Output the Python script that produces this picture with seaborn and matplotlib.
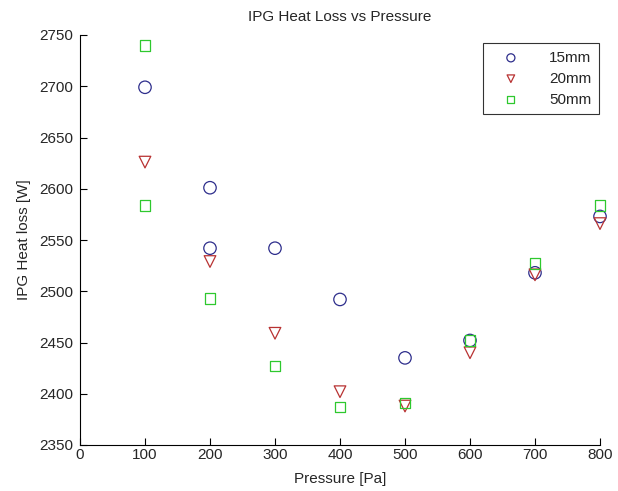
import matplotlib
matplotlib.use("Agg")
import matplotlib.pyplot as plt
import seaborn as sns
import pandas as pd

# Data
pressure_15 = [100, 200, 200, 300, 400, 500, 600, 700, 800]
heat_15 = [2699, 2601, 2542, 2542, 2492, 2435, 2452, 2518, 2573]

pressure_20 = [100, 200, 300, 400, 500, 600, 700, 800]
heat_20 = [2626, 2529, 2459, 2402, 2388, 2440, 2516, 2566]

pressure_50 = [100, 100, 200, 300, 400, 500, 600, 700, 800]
heat_50 = [2740, 2584, 2493, 2427, 2387, 2391, 2452, 2527, 2584]

series_labels = ["15mm", "20mm", "50mm"]
x_ticks = [0, 100, 200, 300, 400, 500, 600, 700, 800]
y_ticks = [2350, 2400, 2450, 2500, 2550, 2600, 2650, 2700, 2750]

sns.set_theme(style="white")
plt.rcParams["font.family"] = ["Liberation Sans", "DejaVu Sans"]
plt.rcParams["xtick.direction"] = "in"
plt.rcParams["ytick.direction"] = "in"

FS = 11

fig = plt.figure(figsize=(6.18, 4.91), dpi=100)
ax = fig.add_axes([80 / 618, 1 - 445 / 491, 520 / 618, 410 / 491])

styles = [("o", "#2e2e8c", 80), ("v", "#b83232", 70), ("s", "#2ec82e", 60)]
datasets = [(pressure_15, heat_15), (pressure_20, heat_20), (pressure_50, heat_50)]

for (px, hy), lab, (mk, col, sz) in zip(datasets, series_labels, styles):
    df = pd.DataFrame({"Pressure": px, "Heat": hy})
    sns.scatterplot(data=df, x="Pressure", y="Heat", marker=mk, s=sz, ax=ax,
                    label=lab, linewidth=0.9)
    coll = ax.collections[-1]
    coll.set_facecolor("none")
    coll.set_edgecolor(col)
    coll.set_clip_on(False)

ax.set_xlim(0, 800)
ax.set_ylim(2350, 2750)
ax.set_xticks(x_ticks)
ax.set_yticks(y_ticks)
ax.tick_params(axis="both", labelsize=FS, length=5, width=0.8, color="black",
               bottom=True, left=True)
ax.tick_params(axis="x", pad=2)
ax.tick_params(axis="y", pad=5)
for side in ["top", "right"]:
    ax.spines[side].set_visible(False)
for side in ["left", "bottom"]:
    ax.spines[side].set_color("black")
    ax.spines[side].set_linewidth(0.8)

ax.set_title("IPG Heat Loss vs Pressure", fontsize=FS, pad=10)
ax.set_xlabel("Pressure [Pa]", fontsize=FS, labelpad=7)
ax.set_ylabel("IPG Heat loss [W]", fontsize=FS, labelpad=6)

leg = ax.legend(loc="upper right", fontsize=FS, frameon=True, fancybox=False,
                edgecolor="black", borderpad=0.5, handletextpad=1.2,
                handlelength=2.6, markerscale=0.65, borderaxespad=0.0,
                bbox_to_anchor=(0.998, 0.98), labelspacing=0.45)
leg.get_frame().set_linewidth(0.8)

fig.savefig("out.png", dpi=100)
